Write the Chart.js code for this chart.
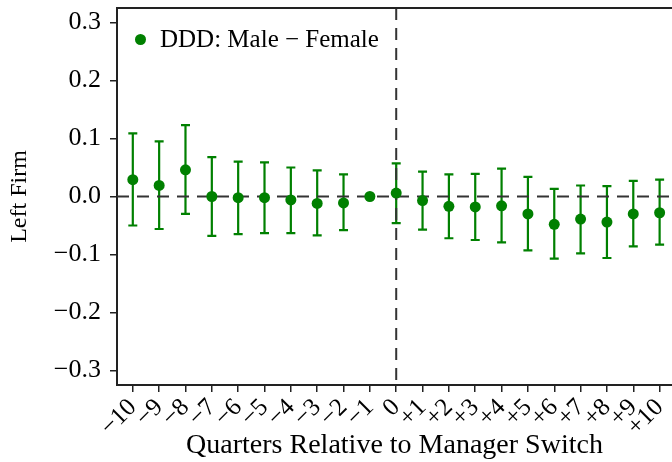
<!DOCTYPE html>
<html>
<head>
<meta charset="utf-8">
<script src="https://cdn.jsdelivr.net/npm/chart.js@4.4.0/dist/chart.umd.min.js"></script>
<style>
    html, body { margin: 0; padding: 0; background: #fff; }
    #wrap { position: relative; width: 672px; height: 462px; overflow: hidden; }
    #legend {
        position: absolute; left: 135px; top: 25px;
        font: 25px "Liberation Serif", "Times New Roman", serif;
        color: #000; display: flex; align-items: center; white-space: nowrap;
    }
    #legend .dot { width: 11px; height: 11px; border-radius: 50%; background: #008000; margin-right: 14px; }
</style>
</head>
<body>
<div id="wrap">
    <canvas id="chart" width="672" height="462"></canvas>
    <div id="legend"></div>
</div>
<script>
// 데이터
const quarters = [-10, -9, -8, -7, -6, -5, -4, -3, -2, -1, 0, 1, 2, 3, 4, 5, 6, 7, 8, 9, 10];
const quarterLabels = ['−10', '−9', '−8', '−7', '−6', '−5', '−4', '−3', '−2', '−1', '0',
    '+1', '+2', '+3', '+4', '+5', '+6', '+7', '+8', '+9', '+10'];
const estimates = [0.029, 0.019, 0.046, 0.000, -0.002, -0.002, -0.006, -0.012, -0.011, 0.000, 0.006,
    -0.007, -0.017, -0.018, -0.016, -0.030, -0.048, -0.039, -0.044, -0.030, -0.028];
const ciHigh = [0.109, 0.095, 0.123, 0.068, 0.060, 0.059, 0.050, 0.045, 0.038, null, 0.057,
    0.043, 0.038, 0.039, 0.048, 0.034, 0.013, 0.019, 0.018, 0.027, 0.029];
const ciLow = [-0.050, -0.056, -0.030, -0.068, -0.065, -0.063, -0.063, -0.067, -0.058, null, -0.046,
    -0.057, -0.072, -0.075, -0.079, -0.093, -0.107, -0.098, -0.106, -0.086, -0.083];
const yTicks = [-0.3, -0.2, -0.1, 0.0, 0.1, 0.2, 0.3];
const seriesLabel = 'DDD: Male − Female';

const green = '#008000';
const ink = '#222';
const serif = '"Liberation Serif", "Times New Roman", serif';

// 오차막대 + 기준선
const errorBarPlugin = {
    id: 'errorBars',
    beforeDatasetsDraw(chart) {
        const { ctx, chartArea, scales: { x, y } } = chart;
        ctx.save();
        ctx.strokeStyle = green;
        ctx.lineWidth = 2.2;
        quarters.forEach((q, i) => {
            if (ciLow[i] === null) return;
            const px = x.getPixelForValue(q);
            const top = y.getPixelForValue(ciHigh[i]);
            const bot = y.getPixelForValue(ciLow[i]);
            ctx.beginPath();
            ctx.moveTo(px, top); ctx.lineTo(px, bot);
            ctx.moveTo(px - 4.5, top); ctx.lineTo(px + 4.5, top);
            ctx.moveTo(px - 4.5, bot); ctx.lineTo(px + 4.5, bot);
            ctx.stroke();
        });

        // 0 기준 점선
        ctx.strokeStyle = '#333';
        ctx.lineWidth = 2;
        ctx.setLineDash([12, 8]);
        const y0 = y.getPixelForValue(0);
        ctx.beginPath();
        ctx.moveTo(chartArea.left, y0); ctx.lineTo(chartArea.right, y0);
        ctx.stroke();
        const x0 = x.getPixelForValue(0);
        ctx.beginPath();
        ctx.moveTo(x0, chartArea.top); ctx.lineTo(x0, chartArea.bottom);
        ctx.stroke();
        ctx.setLineDash([]);

        // 위쪽 테두리
        ctx.strokeStyle = ink;
        ctx.lineWidth = 2;
        ctx.beginPath();
        ctx.moveTo(chartArea.left, chartArea.top); ctx.lineTo(chartArea.right, chartArea.top);
        ctx.stroke();
        ctx.restore();
    }
};

document.getElementById('legend').innerHTML = '<span class="dot"></span><span>' + seriesLabel + '</span>';

new Chart(document.getElementById('chart'), {
    type: 'scatter',
    data: {
        datasets: [{
            label: seriesLabel,
            data: quarters.map((q, i) => ({ x: q, y: estimates[i] })),
            backgroundColor: green,
            borderColor: green,
            pointRadius: 5.5,
            pointBorderWidth: 0
        }]
    },
    options: {
        responsive: false,
        animation: false,
        layout: { autoPadding: false, padding: { top: 8, right: 0, left: 0, bottom: 0 } },
        plugins: {
            legend: { display: false },
            tooltip: { enabled: false }
        },
        scales: {
            x: {
                type: 'linear',
                min: -10.6,
                max: 10.47,
                afterBuildTicks: s => { s.ticks = quarters.map(v => ({ value: v })); },
                afterFit: s => { s.height = 77; s.paddingLeft = 0; s.paddingRight = 0; },
                ticks: {
                    callback: (v, i) => quarterLabels[i],
                    minRotation: 45,
                    maxRotation: 45,
                    autoSkip: false,
                    color: '#000',
                    padding: 1,
                    font: { family: serif, size: 25 }
                },
                grid: { drawOnChartArea: false, tickLength: 7, color: ink, lineWidth: 1.5 },
                border: { color: ink, width: 2 },
                title: {
                    display: true,
                    text: 'Quarters Relative to Manager Switch',
                    color: '#000',
                    padding: { top: 0, bottom: 0 },
                    font: { family: serif, size: 28, lineHeight: 1.2 }
                }
            },
            y: {
                min: -0.325,
                max: 0.325,
                afterBuildTicks: s => { s.ticks = yTicks.map(v => ({ value: v })); },
                afterFit: s => { s.width = 117; s.paddingTop = 0; s.paddingBottom = 0; },
                ticks: {
                    callback: v => (v < -1e-9 ? '−' : '') + Math.abs(v).toFixed(1),
                    color: '#000',
                    padding: 9,
                    font: { family: serif, size: 26 }
                },
                grid: { drawOnChartArea: false, tickLength: 7, color: ink, lineWidth: 1.5 },
                border: { color: ink, width: 2 },
                title: {
                    display: true,
                    text: 'Left Firm',
                    color: '#000',
                    padding: { top: 5, bottom: 0 },
                    font: { family: serif, size: 24 }
                }
            }
        }
    },
    plugins: [errorBarPlugin]
});
</script>
</body>
</html>
